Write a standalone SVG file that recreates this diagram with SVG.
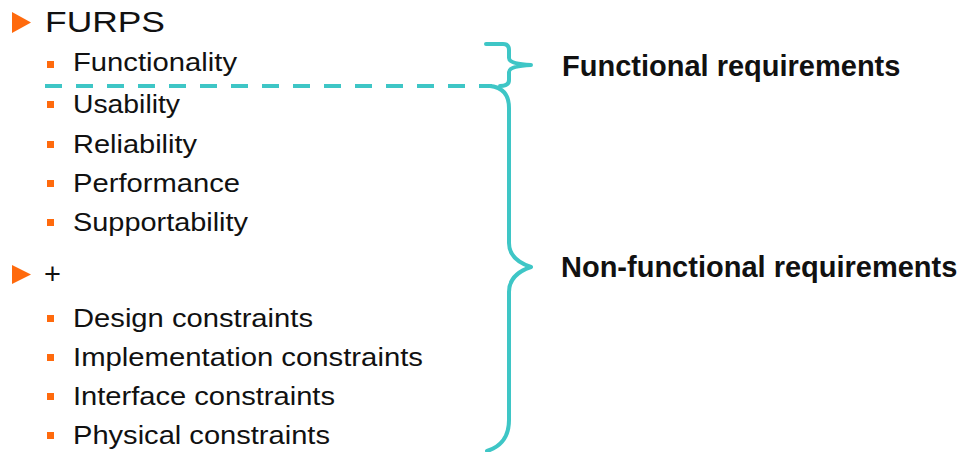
<svg xmlns="http://www.w3.org/2000/svg" width="963" height="452" viewBox="0 0 963 452">
  <style>
    .head { font-family: "Liberation Sans", Arial, sans-serif; font-size: 29px; fill: #111; }
    .item { font-family: "Liberation Sans", Arial, sans-serif; font-size: 25px; fill: #111; }
    .label { font-family: "Liberation Sans", Arial, sans-serif; font-size: 29px; font-weight: bold; fill: #111; }
    .tri { fill: #ff6a0d; }
    .sq { fill: #ff6a0d; }
    .brace { fill: none; stroke: #3ec6c6; stroke-width: 4; stroke-linecap: round; stroke-linejoin: round; }
    .dash { fill: none; stroke: #3ec6c6; stroke-width: 4; stroke-dasharray: 17 14; }
  </style>
  <defs>
    <rect id="bullet" class="sq" width="7" height="7"/>
  </defs>
  <rect width="963" height="452" fill="#fff"/>

  <!-- FURPS list -->
  <g id="furps">
    <polygon class="tri" points="12,12 31,22.5 12,33"/>
    <text class="head" x="45" y="32" textLength="120" lengthAdjust="spacingAndGlyphs">FURPS</text>
  </g>
  <g id="functionality">
    <use href="#bullet" x="47" y="61"/>
    <text class="item" x="73" y="71" textLength="164" lengthAdjust="spacingAndGlyphs">Functionality</text>
  </g>
  <g id="usability">
    <use href="#bullet" x="47" y="101"/>
    <text class="item" x="73" y="113" textLength="107" lengthAdjust="spacingAndGlyphs">Usability</text>
  </g>
  <g id="reliability">
    <use href="#bullet" x="47" y="141"/>
    <text class="item" x="73" y="153" textLength="124" lengthAdjust="spacingAndGlyphs">Reliability</text>
  </g>
  <g id="performance">
    <use href="#bullet" x="47" y="180"/>
    <text class="item" x="73" y="192" textLength="167" lengthAdjust="spacingAndGlyphs">Performance</text>
  </g>
  <g id="supportability">
    <use href="#bullet" x="47" y="219"/>
    <text class="item" x="73" y="231" textLength="175" lengthAdjust="spacingAndGlyphs">Supportability</text>
  </g>

  <!-- Constraints list -->
  <g id="plus">
    <polygon class="tri" points="12,265 31,274.5 12,284"/>
    <text class="head" x="44" y="284">+</text>
  </g>
  <g id="design">
    <use href="#bullet" x="47" y="315"/>
    <text class="item" x="73" y="327" textLength="240" lengthAdjust="spacingAndGlyphs">Design constraints</text>
  </g>
  <g id="implementation">
    <use href="#bullet" x="47" y="354"/>
    <text class="item" x="73" y="366" textLength="350" lengthAdjust="spacingAndGlyphs">Implementation constraints</text>
  </g>
  <g id="interface">
    <use href="#bullet" x="47" y="393"/>
    <text class="item" x="73" y="405" textLength="262" lengthAdjust="spacingAndGlyphs">Interface constraints</text>
  </g>
  <g id="physical">
    <use href="#bullet" x="47" y="432"/>
    <text class="item" x="73" y="444" textLength="257" lengthAdjust="spacingAndGlyphs">Physical constraints</text>
  </g>

  <!-- Braces and divider -->
  <g id="connectors">
    <line class="dash" x1="45" y1="86" x2="492" y2="86"/>
    <path class="brace" d="M486,44 H503 Q509,44 509,50 V58 Q509,64 531,65 Q509,66 509,72 V80 Q509,86 500,86"/>
    <path class="brace" d="M490,86 Q509,88 509,108 V243 C509,258 522,264 531,267 C522,270 509,276 509,292 V420 C509,438 500,447 487,451"/>
  </g>

  <!-- Requirement labels -->
  <g id="functional-req">
    <text class="label" x="562" y="76">Functional requirements</text>
  </g>
  <g id="nonfunctional-req">
    <text class="label" x="561" y="277">Non-functional requirements</text>
  </g>
</svg>
